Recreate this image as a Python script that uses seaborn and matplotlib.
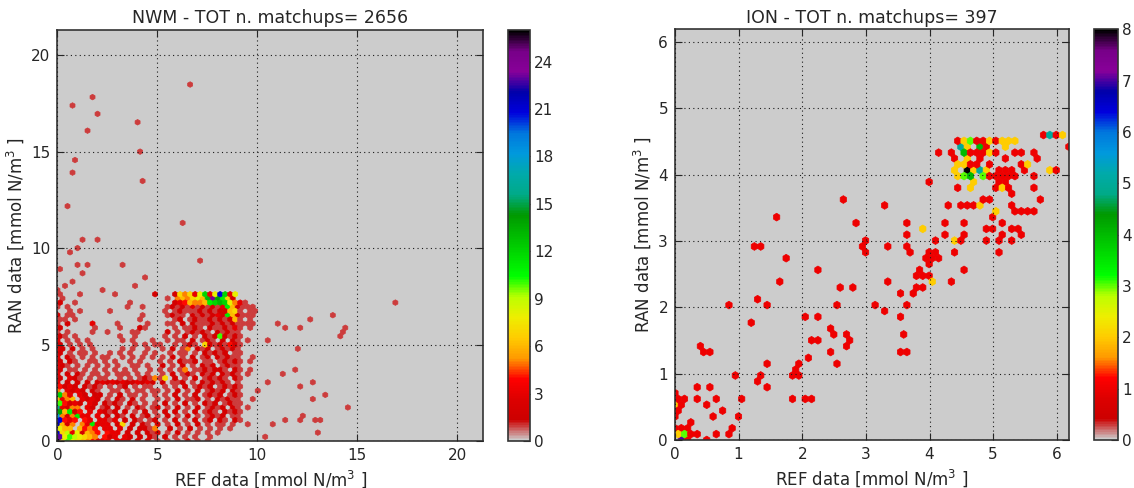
import numpy as np
import pandas as pd
import matplotlib
matplotlib.use("Agg")
import matplotlib.pyplot as plt
import seaborn as sns

# hex counts are coded as one character: '.' empty, 1-9, a=10 ... q=26
CODES = ".123456789abcdefghijklmnopq"

# NWM dense area, one string per hex row, top row (y~7.6) first, x from 0 to ~9.8
nwm_rows = [
    "1........." ".........2" "...275738c" "38lc38....",
    ".1........" ".........." "..1.565786" "doeb72....",
    "2..1......" "....1....." "...2346556" "bcdc8531..",
    "1.1......." "....1..1.." "..12121312" "1213b62111",
    "..1.1....." "1........." ".1.1211121" "2122671.11",
    "2.11......" ".......1.." "..1211.212" "1232b62111",
    "11.1......" "......1..." "...12.1211" "2121261.1.",
    "1.2....3.." "..1.....1." "..11.2.211" "1212121111",
    "2......1.." "..1...21.." "...1.1121." "2112131.1.",
    "1.1....1.." "1....11..." "..2.1.1212" "1.21211...",
    "21.1......" "..1..1...." ".1.1.2.1.2" "12a2121...",
    "3.1.1.1..." "...1.1...1" "..1.11.2.1" "21.2.21.1.",
    "2.1.1.1..." ".....1.1.1" "1..1.121.7" "2121421...",
    "32.2.1.1.." "...1.1..1." ".1.2.15.21" "2.12121...",
    "2.1.11.1.." "1.1.1..1.1" "..1.11.1.2" "1212.11...",
    "3.21.1.1.1" "1..1.1.1.1" ".1.2.1.2.1" "2.21211...",
    "2.21..11.1" ".1..1.1..." "1.1.2112.1" "1.12121.1.",
    "321.1.1.1." "1.1..11.1." ".2.1.2.1.2" "12.1211...",
    "2.11.1.1.1" ".1.1.1..1." "1.1.15.112" "1221.21...",
    "3.2.21.11." "1.111.1.1." ".1.2.121.2" "12.2121.1.",
    "2.321.1.11" "..1.1.1215" "17.2.1.2.1" "2121.21...",
    "3.2.2.2.23" "2323223232" ".2.112.1.2" "12121.1...",
    "4232.2121." "1.12.1.11." ".1.1.2.121" "2.12121...",
    "5.3232.21." ".11.1.11.1" "1.1.2.1.2." "1212.21...",
    "c53.32.22." "1.2.11.1.1" ".1.2.1.2.1" "212.121...",
    "6356.3232." "1.21.2.1.." "1.1.2.112." "1.21211...",
    "a4232.32.2" "121.21.1.1" ".2.1.2.1.2" "12.1211...",
    "g3255.32.1" "2.2.1.21.1" "2.1.2.1.2." "1212.21...",
    "e6b24.3.32" "12.2.1.2.1" ".2.2.1.2.1" "21.2121...",
    "i525b33.3." "2.21.2.12." "1.2.1.2.1." "1212.11...",
    "l434.43.33" "13.2.21.12" ".1.2.1.2.1" "2.21.21...",
    "m625.53b33" "3.27.2.21." "2.1.2.1.2." "1.11.1....",
    "866.6454.3" "3.3.2.2215" "..2.1.2.1." "1.1.1.....",
    "l79382654." "433.2.2.21" "2.1.2.1.1." "1.1.......",
    "n8a98765.4" "23.32.2.21" ".2.1.1.1.." "1.........",
    "q7a8765423" "3.332.2.2." "1.1.1.2.1." "1.........",
]

# NWM isolated matchups (ref, ran, count)
nwm_outliers = [
    (6.6, 18.5, 1), (1.8, 17.8, 1), (0.7, 17.4, 1), (2.0, 17.0, 1), (4.1, 16.6, 1),
    (1.5, 16.1, 1), (4.2, 15.0, 1), (0.8, 14.6, 1), (0.7, 14.0, 1), (4.2, 13.5, 1),
    (0.5, 12.2, 1), (6.3, 11.4, 1), (1.2, 10.5, 1), (2.1, 10.5, 1), (0.9, 10.0, 1),
    (0.6, 9.75, 1), (7.2, 9.35, 1), (1.1, 9.2, 1), (1.4, 9.05, 1), (3.3, 9.2, 1),
    (0.1, 8.8, 1), (1.2, 8.6, 1), (4.3, 8.4, 1), (0.65, 8.2, 1), (0.5, 8.05, 1),
    (3.9, 8.0, 1), (2.3, 7.85, 1), (2.9, 7.7, 1), (1.1, 7.7, 1), (0.1, 7.9, 1),
    (16.8, 7.1, 1), (13.7, 6.5, 1), (12.7, 6.2, 1), (11.5, 5.8, 1), (12.1, 5.8, 1),
    (11.1, 6.0, 1), (14.3, 5.85, 1), (14.4, 5.65, 1), (14.2, 5.4, 1), (10.5, 5.3, 1),
    (12.1, 4.85, 1), (9.7, 4.3, 1), (11.9, 3.7, 1), (9.7, 3.6, 1), (11.3, 3.4, 1),
    (10.5, 3.15, 1), (12.1, 2.8, 1), (12.9, 3.0, 1), (13.5, 2.4, 1), (10.0, 2.6, 1),
    (9.8, 2.2, 1), (12.8, 2.2, 1), (14.5, 1.8, 1), (12.4, 1.35, 1), (12.2, 1.1, 1),
    (11.3, 1.1, 1), (12.9, 1.1, 1), (13.1, 1.1, 1), (10.8, 0.95, 1), (9.6, 0.95, 1),
    (13.1, 0.5, 1), (10.5, 0.2, 1), (9.5, 1.7, 1),
]

# ION matchups (ref, ran, count), by region
ion_band = [
    (5.78, 4.62, 1), (5.85, 4.62, 5), (5.92, 4.62, 1), (5.98, 4.62, 1), (6.05, 4.62, 1),
    (6.12, 4.62, 2), (6.17, 4.46, 1),
    (4.40, 4.52, 1), (4.47, 4.52, 1), (4.55, 4.52, 2), (4.62, 4.52, 3), (4.72, 4.52, 1),
    (4.78, 4.52, 1), (4.85, 4.52, 1), (4.91, 4.52, 1), (4.98, 4.52, 2), (5.08, 4.52, 1),
    (5.14, 4.52, 2), (5.22, 4.52, 1), (5.29, 4.52, 2), (5.35, 4.52, 2),
    (4.53, 4.42, 5), (4.61, 4.42, 2), (4.75, 4.45, 4), (4.85, 4.42, 1), (4.92, 4.42, 1),
    (5.16, 4.42, 2), (5.22, 4.40, 1),
]
ion_upper = [
    (4.12, 4.30, 1), (4.33, 4.33, 1), (4.53, 4.30, 4), (4.66, 4.30, 1), (4.72, 4.30, 1),
    (4.79, 4.30, 1), (4.85, 4.30, 1), (4.98, 4.30, 2), (5.08, 4.30, 1), (5.19, 4.30, 1),
    (5.37, 4.30, 1), (5.47, 4.30, 1), (5.63, 4.30, 1),
    (4.40, 4.19, 1), (4.46, 4.19, 2), (4.53, 4.19, 2), (4.60, 4.19, 2), (4.66, 4.19, 1),
    (4.73, 4.19, 1), (4.79, 4.19, 1), (4.90, 4.19, 1), (5.47, 4.15, 1), (5.58, 4.19, 2),
    (5.65, 4.22, 1),
    (5.08, 4.10, 1), (5.16, 4.10, 1), (5.25, 4.10, 1), (5.45, 4.07, 1), (5.90, 4.07, 2),
    (5.96, 4.07, 1),
    (4.38, 4.03, 2), (4.45, 4.03, 2), (4.56, 4.03, 8), (4.62, 4.03, 6), (4.70, 4.03, 2),
    (4.79, 4.03, 5), (4.86, 4.03, 2), (3.98, 3.92, 1),
    (4.46, 3.96, 2), (4.53, 3.96, 3), (4.60, 3.96, 4), (4.68, 3.96, 1), (4.85, 3.96, 3),
    (4.92, 3.96, 1), (4.98, 3.96, 1), (5.05, 3.96, 1), (5.12, 3.96, 1), (5.19, 3.96, 1),
    (5.27, 3.96, 1), (5.34, 3.96, 1), (5.68, 3.96, 1),
    (5.05, 3.89, 1), (5.12, 3.89, 1), (5.21, 3.89, 1), (4.66, 3.86, 1), (4.72, 3.86, 2),
    (5.63, 3.85, 1),
    (4.45, 3.80, 1), (4.67, 3.80, 2), (5.05, 3.80, 1), (5.16, 3.80, 2), (5.22, 3.76, 1),
    (5.28, 3.74, 1), (5.34, 3.74, 1), (5.74, 3.65, 1), (2.63, 3.65, 1),
    (4.33, 3.57, 1), (4.46, 3.55, 1), (4.50, 3.50, 1), (4.55, 3.55, 1), (4.60, 3.55, 1),
    (4.72, 3.55, 1), (4.78, 3.55, 2), (4.84, 3.60, 1), (4.93, 3.60, 1), (5.03, 3.50, 2),
    (5.30, 3.55, 1), (5.37, 3.48, 1), (5.44, 3.48, 1), (5.50, 3.48, 1), (5.63, 3.42, 1),
    (3.27, 3.50, 1),
]
ion_middle = [
    (3.66, 3.32, 1), (4.98, 3.32, 1), (1.62, 3.32, 1), (3.91, 3.22, 2), (4.20, 3.27, 1),
    (4.55, 3.27, 1), (5.19, 3.27, 1), (5.29, 3.20, 1), (5.37, 3.17, 1), (2.89, 3.27, 1),
    (3.60, 3.12, 1), (4.23, 3.12, 1), (4.53, 3.12, 1), (5.13, 3.10, 1), (5.47, 3.10, 1),
    (5.29, 3.04, 1), (4.87, 3.17, 1), (5.02, 3.17, 1),
    (3.00, 2.96, 1), (3.30, 2.89, 1), (3.60, 2.95, 1), (4.14, 3.00, 1), (4.40, 3.00, 2),
    (4.53, 2.98, 1), (4.85, 3.00, 1), (5.10, 3.00, 1), (5.08, 2.82, 1),
    (2.98, 2.85, 1), (2.90, 2.90, 1), (3.70, 2.84, 1), (3.95, 2.83, 1), (4.03, 2.78, 1),
    (4.10, 2.78, 1), (4.17, 2.78, 1), (4.40, 2.78, 1), (3.96, 2.70, 1), (3.99, 2.63, 1),
    (3.86, 2.56, 1), (4.55, 2.52, 1), (3.81, 2.45, 1), (3.88, 2.45, 1), (3.95, 2.49, 1),
    (3.39, 2.39, 1), (4.03, 2.35, 2), (4.35, 2.35, 1), (3.92, 2.31, 1), (3.55, 2.23, 1),
    (3.78, 2.25, 1), (3.79, 2.18, 1), (2.78, 2.28, 1), (2.63, 2.28, 1),
    (1.79, 2.72, 1), (1.62, 2.39, 1), (1.38, 2.89, 1), (1.22, 2.94, 1), (2.25, 2.57, 1),
    (3.55, 1.91, 1), (3.66, 2.04, 1), (3.26, 1.96, 1), (3.12, 2.01, 1), (2.57, 2.01, 1),
    (2.25, 1.91, 1), (2.05, 1.91, 1), (1.26, 2.11, 1), (1.41, 2.06, 1), (1.18, 1.79, 1),
    (0.89, 2.01, 1),
]
ion_lower = [
    (3.58, 1.63, 1), (3.58, 1.36, 1), (3.69, 1.31, 1), (2.48, 1.58, 1), (2.42, 1.64, 1),
    (2.48, 1.36, 1), (2.57, 1.14, 1), (2.71, 1.63, 1), (2.71, 1.53, 1), (2.78, 1.53, 1),
    (2.71, 1.41, 1), (2.28, 1.53, 1), (2.16, 1.46, 1), (2.05, 1.26, 1),
    (1.44, 1.14, 1), (1.47, 0.76, 1), (1.30, 0.98, 1), (1.34, 0.87, 1), (1.85, 1.08, 1),
    (1.86, 0.98, 1), (1.94, 0.98, 1), (1.94, 1.14, 1), (1.82, 0.60, 1), (2.08, 0.60, 1),
    (2.15, 0.60, 1), (0.95, 0.93, 1), (1.04, 0.65, 1), (0.98, 0.33, 1), (0.89, 0.17, 1),
    (0.81, 0.06, 1), (0.78, 0.45, 1), (0.63, 0.60, 1), (0.61, 0.33, 1), (0.62, 0.10, 1),
    (0.58, 1.31, 1), (0.40, 1.47, 1), (0.42, 1.31, 1), (0.38, 0.60, 1), (0.49, 0.55, 1),
    (0.52, 0.77, 1), (0.38, 0.77, 1), (0.26, 0.27, 1), (0.18, 0.22, 1), (0.17, 0.65, 1),
    (0.38, 0.07, 1), (0.47, 0.02, 1), (0.14, 0.06, 1), (0.22, 0.05, 1),
]
ion_origin = [
    (0.02, 0.75, 1), (0.02, 0.65, 1), (0.03, 0.55, 2), (0.08, 0.52, 1), (0.02, 0.45, 1),
    (0.06, 0.40, 1), (0.02, 0.35, 1), (0.02, 0.20, 1), (0.08, 0.15, 1), (0.05, 0.10, 2),
    (0.12, 0.10, 3), (0.08, 0.02, 7), (0.16, 0.02, 1),
]

nwm_title = "NWM - TOT n. matchups= 2656"
ion_title = "ION - TOT n. matchups= 397"
x_label = r"REF data [mmol N/m$^3$ ]"
y_label = r"RAN data [mmol N/m$^3$ ]"

nwm_lim, nwm_grid = 21.3, 85
nwm_axis_ticks, nwm_cbar_ticks = list(range(0, 21, 5)), list(range(0, 25, 3))
ion_lim, ion_grid = 6.19, 62
ion_axis_ticks, ion_cbar_ticks = list(range(0, 7)), list(range(0, 9))


def rows_to_frame(rows, lim, grid):
    """turn the coded hex rows into (ref, ran, n) records on the hexbin lattice"""
    dx = lim / grid
    dy = lim / int(grid / np.sqrt(3)) / 2
    recs = []
    for k, row in enumerate(rows):
        r = len(rows) - 1 - k
        for c, ch in enumerate(row):
            n = CODES.index(ch)
            if n:
                recs.append((c * dx + (r % 2) * dx / 2, r * dy, n))
    return pd.DataFrame(recs, columns=["ref", "ran", "n"])


nwm_df = pd.concat([rows_to_frame(nwm_rows, nwm_lim, nwm_grid),
                    pd.DataFrame(nwm_outliers, columns=["ref", "ran", "n"])])
ion_df = pd.DataFrame(ion_band + ion_upper + ion_middle + ion_lower + ion_origin,
                      columns=["ref", "ran", "n"])

sns.set_theme(style="ticks")
plt.rcParams["font.family"] = ["DejaVu Sans"]
cmap = sns.color_palette("nipy_spectral_r", as_cmap=True)

fig = plt.figure(figsize=(11.34, 4.88), dpi=100)
ax1 = fig.add_axes([0.0507, 0.0963, 0.3752, 0.8422])
cax1 = fig.add_axes([0.4484, 0.0963, 0.0190, 0.8422])
ax2 = fig.add_axes([0.5952, 0.0984, 0.3474, 0.8412])
cax2 = fig.add_axes([0.9647, 0.0984, 0.0212, 0.8412])


def draw(ax, cax, df, lim, grid, title, axis_ticks, cbar_ticks):
    hb = ax.hexbin(df["ref"], df["ran"], C=df["n"], reduce_C_function=np.max,
                   gridsize=grid, extent=(0, lim, 0, lim), mincnt=1,
                   cmap=cmap, vmin=0, linewidths=0.5, edgecolors="face")
    ax.set_facecolor(cmap(0.0))
    ax.set_xlim(0, lim)
    ax.set_ylim(0, lim)
    ax.set_xticks(axis_ticks)
    ax.set_yticks(axis_ticks)
    ax.set_axisbelow(False)
    ax.grid(True, color="k", linestyle=(0, (1, 3)), linewidth=0.8)
    ax.tick_params(direction="in", length=5, width=0.8, top=True, right=True,
                   labelsize=11, pad=5)
    for s in ax.spines.values():
        s.set_color("#333333")
        s.set_linewidth(1.2)
    ax.set_title(title, fontsize=12.5, pad=5)
    ax.set_xlabel(x_label, fontsize=12)
    ax.set_ylabel(y_label, fontsize=12)

    cb = fig.colorbar(hb, cax=cax)
    cb.set_ticks(cbar_ticks)
    cb.outline.set_edgecolor("#333333")
    cb.outline.set_linewidth(1.2)
    cax.tick_params(direction="in", length=5, width=0.8, labelsize=11, pad=3)


draw(ax1, cax1, nwm_df, nwm_lim, nwm_grid, nwm_title, nwm_axis_ticks, nwm_cbar_ticks)
draw(ax2, cax2, ion_df, ion_lim, ion_grid, ion_title, ion_axis_ticks, ion_cbar_ticks)

fig.savefig("out.png", dpi=100)
